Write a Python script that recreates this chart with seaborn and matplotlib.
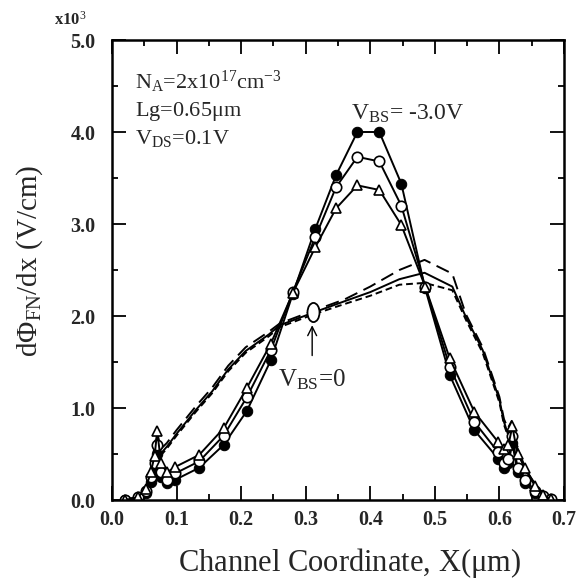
import matplotlib
matplotlib.use("Agg")
import matplotlib.pyplot as plt
import seaborn as sns
import pandas as pd
from matplotlib.path import Path
from matplotlib.ticker import MultipleLocator, FormatStrFormatter

# ---------------- data ----------------
x_mark = [0.02, 0.04, 0.052, 0.06, 0.066, 0.070, 0.076, 0.085, 0.098, 0.135, 0.173,
          0.209, 0.246, 0.28, 0.315, 0.347, 0.38, 0.414, 0.448, 0.485, 0.523, 0.561,
          0.598, 0.607, 0.614, 0.62, 0.628, 0.64, 0.655, 0.668, 0.68]
y_filled = [0.0, 0.02, 0.08, 0.20, 0.35, 0.50, 0.25, 0.18, 0.22, 0.35, 0.60, 0.97,
            1.52, 2.24, 2.95, 3.53, 4.00, 4.00, 3.44, 2.30, 1.36, 0.76, 0.45, 0.35,
            0.40, 0.62, 0.30, 0.18, 0.08, 0.03, 0.0]
y_open = [0.0, 0.03, 0.10, 0.25, 0.40, 0.60, 0.30, 0.22, 0.29, 0.42, 0.70, 1.12,
          1.63, 2.26, 2.86, 3.40, 3.73, 3.68, 3.20, 2.32, 1.45, 0.85, 0.52, 0.40,
          0.45, 0.70, 0.35, 0.22, 0.10, 0.04, 0.01]
y_tri = [0.0, 0.03, 0.12, 0.30, 0.48, 0.75, 0.40, 0.30, 0.36, 0.49, 0.78, 1.22,
         1.70, 2.25, 2.75, 3.17, 3.42, 3.37, 2.99, 2.32, 1.54, 0.96, 0.63, 0.55,
         0.60, 0.80, 0.50, 0.35, 0.15, 0.05, 0.01]

x_zero = [0.02, 0.04, 0.052, 0.06, 0.066, 0.070, 0.075, 0.085, 0.10, 0.13, 0.155,
          0.18, 0.207, 0.243, 0.26, 0.313, 0.36, 0.40, 0.445, 0.484, 0.527, 0.548,
          0.574, 0.60, 0.607, 0.613, 0.619, 0.626, 0.64, 0.66, 0.68]
y_zero_solid = [0.0, 0.03, 0.12, 0.30, 0.55, 0.70, 0.50, 0.58, 0.72, 0.98, 1.18,
                1.42, 1.62, 1.80, 1.90, 2.04, 2.16, 2.26, 2.40, 2.47, 2.32, 1.99,
                1.63, 1.09, 0.85, 0.72, 0.82, 0.60, 0.33, 0.12, 0.02]
y_zero_long = [0.0, 0.03, 0.12, 0.30, 0.60, 0.75, 0.55, 0.62, 0.76, 1.02, 1.22,
               1.46, 1.66, 1.83, 1.92, 2.06, 2.18, 2.32, 2.50, 2.61, 2.46, 2.02,
               1.66, 1.12, 0.88, 0.78, 0.86, 0.62, 0.34, 0.12, 0.02]
y_zero_short = [0.0, 0.03, 0.12, 0.30, 0.52, 0.68, 0.48, 0.56, 0.70, 0.96, 1.16,
                1.40, 1.60, 1.78, 1.88, 2.02, 2.13, 2.22, 2.34, 2.36, 2.28, 1.96,
                1.60, 1.06, 0.82, 0.70, 0.80, 0.58, 0.32, 0.11, 0.02]

ellipse_x = [0.311]
ellipse_y = [2.04]

x_ticks = [0.0, 0.1, 0.2, 0.3, 0.4, 0.5, 0.6, 0.7]
y_ticks = [0.0, 1.0, 2.0, 3.0, 4.0, 5.0]

# ---------------- style ----------------
sns.set_style("ticks")
plt.rcParams["font.family"] = ["Liberation Serif", "DejaVu Serif"]
plt.rcParams["mathtext.fontset"] = "custom"
plt.rcParams["mathtext.rm"] = "Liberation Serif"
plt.rcParams["mathtext.it"] = "Liberation Serif:italic"
plt.rcParams["mathtext.bf"] = "Liberation Serif:bold"

fig = plt.figure(figsize=(5.83, 5.82), dpi=100)
ax = fig.add_axes([112 / 583, 82 / 582, 452 / 583, 460 / 582])

lw = 1.4
ms = 7.5

sns.lineplot(x=x_zero, y=y_zero_solid, ax=ax, sort=False, estimator=None,
             color="black", linewidth=lw)
sns.lineplot(x=x_zero, y=y_zero_long, ax=ax, sort=False, estimator=None,
             color="black", linewidth=lw, linestyle=(0, (7, 3.5)))
sns.lineplot(x=x_zero, y=y_zero_short, ax=ax, sort=False, estimator=None,
             color="black", linewidth=lw, linestyle=(0, (3.5, 2)))

sns.lineplot(x=x_mark, y=y_filled, ax=ax, sort=False, estimator=None,
             color="black", linewidth=lw, marker="o", markersize=ms,
             markerfacecolor="black", markeredgecolor="black")
sns.lineplot(x=x_mark, y=y_open, ax=ax, sort=False, estimator=None,
             color="black", linewidth=lw, marker="o", markersize=ms,
             markerfacecolor="white", markeredgecolor="black", markeredgewidth=1.2)
sns.lineplot(x=x_mark, y=y_tri, ax=ax, sort=False, estimator=None,
             color="black", linewidth=lw, marker="^", markersize=ms,
             markerfacecolor="white", markeredgecolor="black", markeredgewidth=1.2)

# tall open ellipse marker on V_BS=0 curve
circ = Path.unit_circle()
ell = Path(circ.vertices * [0.63, 1.0], circ.codes)
sns.scatterplot(x=ellipse_x, y=ellipse_y, ax=ax, marker=ell, s=190,
                facecolor="white", edgecolor="black", linewidth=1.3, zorder=5)

ax.annotate("", xy=(0.310, 1.93), xytext=(0.310, 1.54),
            arrowprops=dict(arrowstyle="->", color="black", lw=1.0,
                            mutation_scale=16))

# ---------------- axes ----------------
ax.set_xlim(0.0, 0.7)
ax.set_ylim(0.0, 5.0)
ax.set_xticks(x_ticks)
ax.set_yticks(y_ticks)
ax.xaxis.set_major_formatter(FormatStrFormatter("%.1f"))
ax.yaxis.set_major_formatter(FormatStrFormatter("%.1f"))
ax.xaxis.set_minor_locator(MultipleLocator(0.05))
ax.yaxis.set_minor_locator(MultipleLocator(0.5))
ax.tick_params(which="both", direction="in", top=True, right=True,
               width=1.3, color="black")
ax.tick_params(which="major", length=10, labelsize=14.5)
ax.tick_params(axis="x", which="major", pad=7)
ax.tick_params(axis="y", which="major", pad=12)
ax.tick_params(which="minor", length=4)
for lab in ax.get_xticklabels() + ax.get_yticklabels():
    lab.set_fontweight("bold")
for sp in ax.spines.values():
    sp.set_linewidth(1.8)
    sp.set_color("black")
    sp.set_visible(True)

ax.set_xlabel(r"Channel Coordinate, X($\mathrm{\mu}$m)", fontsize=22)
ax.set_ylabel(r"d$\Phi_{\mathrm{FN}}$/dx (V/cm)", fontsize=21)
ax.xaxis.set_label_coords((350 - 112) / 452, -(563 - 500) / 460)
ax.yaxis.set_label_coords((30 - 112) / 452, 0.52)
ax.xaxis.label.set_va("center")
ax.yaxis.label.set_va("center")

ax.text((70 - 112) / 452, (500 - 20) / 460, r"x10$^{3}$", transform=ax.transAxes,
        fontsize=12, fontweight="bold", ha="center", va="center")

ax.text(0.036, 4.55, r"N$_{\mathrm{A}}$=2x10$^{17}$cm$^{-3}$", fontsize=16,
        va="center", ha="left")
ax.text(0.036, 4.22, r"Lg=0.65$\mathrm{\mu}$m", fontsize=16, va="center", ha="left")
ax.text(0.036, 3.93, r"V$_{\mathrm{DS}}$=0.1V", fontsize=16, va="center", ha="left")
ax.text(0.37, 4.20, r"V$_{\mathrm{BS}}$= -3.0V", fontsize=17, va="center", ha="left")
ax.text(0.257, 1.31, r"V$_{\mathrm{BS}}$=0", fontsize=18, va="center", ha="left")

fig.savefig("out.png", dpi=100, facecolor="white")
